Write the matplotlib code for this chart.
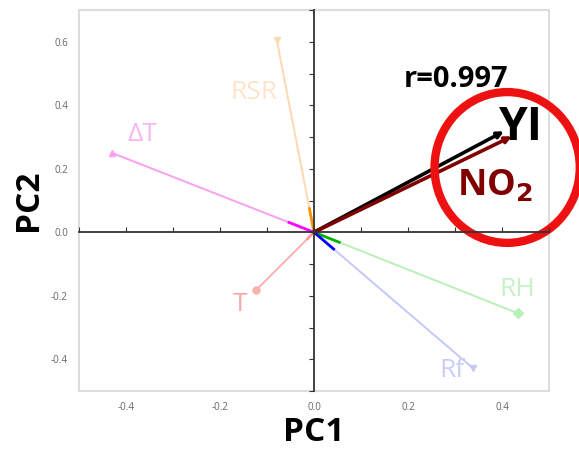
import matplotlib
matplotlib.use("Agg")
import matplotlib.pyplot as plt
from matplotlib.patches import Ellipse

plt.rcParams['font.family'] = ['Open Sans', 'DejaVu Sans']

# ---- data ----
var_names = ["RSR", "ΔT", "T", "RH", "Rf"]
pc1 = [-0.079, -0.43, -0.123, 0.434, 0.338]
pc2 = [0.604, 0.25, -0.182, -0.255, -0.428]
light_colors = ["#FDD9B2", "#F9A0F0", "#FBB0B0", "#B9F0B9", "#C3C8F8"]
label_colors = ["#FDE4CB", "#F8B6F1", "#F9A9A9", "#C6F2C6", "#C9CEF8"]
strong_colors = ["#FF9000", "#FF00FF", "#FF9999", "#00B000", "#0000FF"]
markers = ["v", "^", "o", "D", "v"]

key_names = ["YI", "NO$_\\mathbf{2}$"]
key_pc1 = [0.404, 0.421]
key_pc2 = [0.318, 0.302]
key_colors = ["#000000", "#800000"]
r_value = 0.997

x_ticks = [-0.4, -0.2, 0.0, 0.2, 0.4]
y_ticks = [-0.4, -0.2, 0.0, 0.2, 0.4, 0.6]
xlim = (-0.5, 0.5)
ylim = (-0.5, 0.7)

fig = plt.figure(figsize=(5.79, 4.5), dpi=100)
pos = [79 / 579, 1 - 391 / 450, 470 / 579, 381 / 450]
ax = fig.add_axes(pos)
ax.set_xlim(*xlim)
ax.set_ylim(*ylim)
for s in ax.spines.values():
    s.set_color("#DDDDDD")
    s.set_linewidth(1.5)
ax.set_xticks(x_ticks)
ax.set_yticks(y_ticks)
ax.set_xticklabels([f"{v:.1f}" for v in x_ticks])
ax.set_yticklabels([f"{v:.1f}" for v in y_ticks])
ax.tick_params(length=0, labelsize=7, labelcolor="#666666", pad=8)
ax.set_xlabel("PC1", fontsize=24, fontweight="bold", labelpad=2)
ax.set_ylabel("PC2", fontsize=24, fontweight="bold", labelpad=4)

# zero-centred axes with ticks
ax2 = fig.add_axes(pos, sharex=ax, sharey=ax)
ax2.patch.set_alpha(0)
ax2.spines["left"].set_position(("data", 0))
ax2.spines["bottom"].set_position(("data", 0))
ax2.spines["top"].set_visible(False)
ax2.spines["right"].set_visible(False)
for s in ("left", "bottom"):
    ax2.spines[s].set_color("#333333")
    ax2.spines[s].set_linewidth(1.3)
ax2.set_xticks([v / 10 for v in range(-5, 6)])
ax2.set_yticks([v / 10 for v in range(-5, 8)])
ax2.tick_params(axis="x", direction="in", length=3.5, color="#333333", labelbottom=False)
ax2.tick_params(axis="y", direction="out", length=3.5, color="#333333", labelleft=False)
ax2.set_xlim(*xlim)
ax2.set_ylim(*ylim)

# variable vectors
label_pos = [(-0.128, 0.44), (-0.366, 0.308), (-0.157, -0.226), (0.432, -0.179), (0.294, -0.437)]
for name, x, y, lc, tc, sc, m, lp in zip(var_names, pc1, pc2, light_colors, label_colors,
                                         strong_colors, markers, label_pos):
    ax.plot([0, x], [0, y], color=lc, lw=1.4, zorder=3)
    ax.plot([x], [y], marker=m, color=lc, ms=5, zorder=3)
    ax.plot([0, x * 0.13], [0, y * 0.13], color=sc, lw=2, zorder=4, solid_capstyle="butt")
    ax.text(lp[0], lp[1], name, color=tc, fontsize=19, ha="center", va="center", zorder=5)

# key vectors
for name, x, y, c in zip(key_names, key_pc1, key_pc2, key_colors):
    ax.annotate("", xy=(x, y), xytext=(0, 0),
                arrowprops=dict(arrowstyle="-|>", color=c, lw=2.6, mutation_scale=9,
                                shrinkA=0, shrinkB=0), zorder=6)

ax.text(0.441, 0.33, key_names[0], color=key_colors[0], fontsize=33, fontweight="bold",
        ha="center", va="center", zorder=7)
ax.text(0.384, 0.147, key_names[1], color=key_colors[1], fontsize=26, fontweight="bold",
        ha="center", va="center", zorder=7)
ax.text(0.302, 0.481, f"r={r_value}", color="black", fontsize=21, fontweight="bold",
        ha="center", va="center", zorder=7)

ell = Ellipse((0.411, 0.204), 0.309, 0.475, fill=False, edgecolor="#EE1111", lw=6,
              clip_on=False, zorder=8)
ax.add_patch(ell)

fig.savefig("out.png", dpi=100)
